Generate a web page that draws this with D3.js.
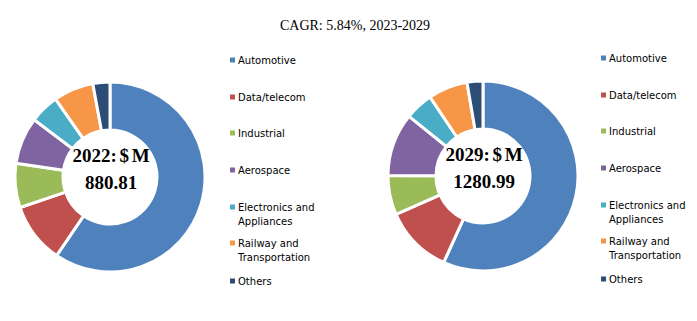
<!DOCTYPE html>
<html>
<head>
<meta charset="utf-8">
<script src="https://cdnjs.cloudflare.com/ajax/libs/d3/7.8.5/d3.min.js"></script>
<style>
  body { margin: 0; background: #fff; }
  svg { display: block; }
</style>
</head>
<body>
<div id="chart"></div>
<script>
// segments and shares (%)
const segments = ["Automotive", "Data/telecom", "Industrial", "Aerospace",
    "Electronics and Appliances", "Railway and Transportation", "Others"];
const share2022 = [59.5, 10.3, 7.5, 8.0, 5.0, 6.8, 2.9];
const share2029 = [56.8, 11.6, 6.7, 10.7, 4.8, 6.7, 2.7];
const years = ["2022", "2029"];
const totals = ["880.81", "1280.99"];
const colors = ["#4F81BD", "#C0504D", "#9BBB59", "#8064A2", "#4BACC6", "#F79646", "#2C4D75"];

let width = 697, height = 321;

let svg = d3.select("#chart").append("svg")
    .attr("width", width)
    .attr("height", height);

// title
svg.append("text")
    .attr("x", 355)
    .attr("y", 30)
    .attr("text-anchor", "middle")
    .style("font-family", "'Liberation Serif', serif")
    .style("font-size", "14px")
    .attr("fill", "#000")
    .text("CAGR: 5.84%, 2023-2029");

let color = d3.scaleOrdinal().domain(segments).range(colors);

let pie = d3.pie().sort(null).value(d => d.value);

// legend rows (marker at first line of each label)
let legendRows = [0, 37, 73, 110, 147, 183, 221];

// one donut + legend per year
let panels = [
    {cx: 110, cy: 177, legendX: 230, legendY: 60, values: share2022},
    {cx: 483, cy: 176, legendX: 601, legendY: 58, values: share2029}
];

panels.forEach((p, i) => {
    let g = svg.append("g").attr("transform", `translate(${p.cx},${p.cy})`);

    let arc = d3.arc().innerRadius(47).outerRadius(95);

    let data = segments.map((s, j) => ({name: s, value: p.values[j]}));

    g.selectAll("path")
        .data(pie(data))
        .enter()
        .append("path")
        .attr("d", arc)
        .attr("fill", d => color(d.data.name))
        .attr("stroke", "#fff")
        .attr("stroke-width", 3)
        .attr("stroke-linejoin", "miter");

    // center label
    g.append("text")
        .attr("x", 1)
        .attr("y", -15)
        .attr("text-anchor", "middle")
        .style("font-family", "'Liberation Serif', serif")
        .style("font-weight", "bold")
        .style("font-size", "19px")
        .style("word-spacing", "-2px")
        .text(years[i] + ": $ M");

    g.append("text")
        .attr("x", 1)
        .attr("y", 12)
        .attr("text-anchor", "middle")
        .style("font-family", "'Liberation Serif', serif")
        .style("font-weight", "bold")
        .style("font-size", "19px")
        .text(totals[i]);

    // legend
    let legend = svg.append("g")
        .attr("transform", `translate(${p.legendX},${p.legendY})`);

    let item = legend.selectAll(".item")
        .data(segments)
        .enter()
        .append("g")
        .attr("class", "item")
        .attr("transform", (d, j) => `translate(0,${legendRows[j]})`);

    item.append("rect")
        .attr("x", 0)
        .attr("y", -2.5)
        .attr("width", 5)
        .attr("height", 5)
        .attr("fill", d => color(d));

    item.append("text")
        .attr("x", 8)
        .attr("y", 0)
        .attr("dy", "0.35em")
        .style("font-family", "'DejaVu Sans', sans-serif")
        .style("font-size", "10px")
        .attr("fill", "#000")
        .each(function(d) {
            let words = d.split(" ");
            let t = d3.select(this);
            if (words.length > 2) {
                t.append("tspan").attr("x", 8).text(words.slice(0, 2).join(" "));
                t.append("tspan").attr("x", 8).attr("dy", "14px").text(words.slice(2).join(" "));
            } else {
                t.text(d);
            }
        });
});
</script>
</body>
</html>
